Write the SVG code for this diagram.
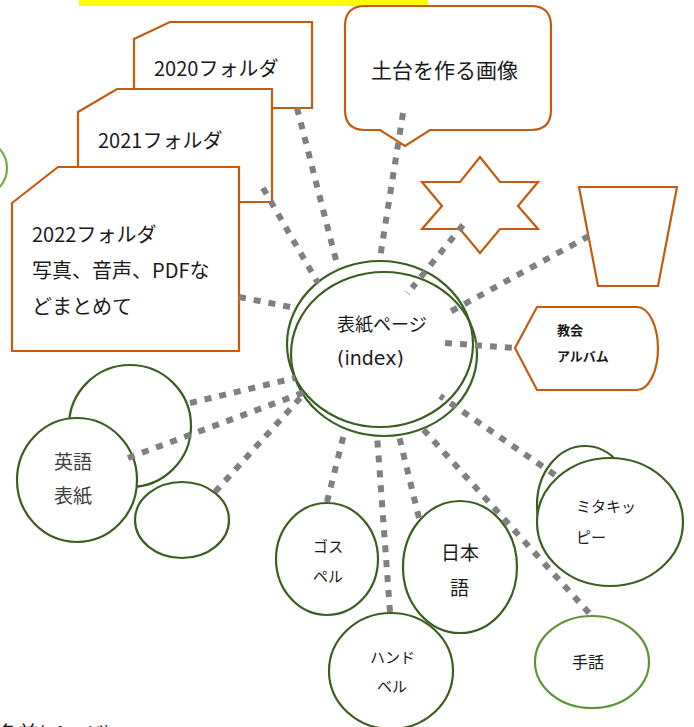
<svg xmlns="http://www.w3.org/2000/svg" width="694" height="727" viewBox="0 0 694 727">
<style>
.o{fill:#fff;stroke:#C55A11;stroke-width:2.2}
.g{fill:#fff;stroke:#3B5E22;stroke-width:2.2}
.gn{fill:none;stroke:#3B5E22;stroke-width:2.2}
.gl{fill:#fff;stroke:#5E9438;stroke-width:2.2}
.t{font-family:"Noto Sans CJK JP","Noto Sans",sans-serif;fill:#1a1a1a}
.c line{stroke:#808080;stroke-width:6;stroke-dasharray:7 8}
</style>
<rect width="694" height="727" fill="#fff"/>
<rect x="79" y="0" width="349" height="6" fill="#FFFF00"/>
<g id="left-partial"><ellipse cx="-23" cy="168" rx="30" ry="29" fill="#fff" stroke="#70AD47" stroke-width="2.2"/></g>
<g id="folder2020"><polygon class="o" points="134,39 170,22 312,22 312,108 134,108"/><text class="t" x="154" y="76" font-size="20">2020フォルダ</text></g>
<g id="folder2021"><polygon class="o" points="78,112 117,89 272,89 272,202 78,202"/><text class="t" x="98" y="148" font-size="20">2021フォルダ</text></g>
<g id="folder2022"><polygon class="o" points="12,203 58,167 239,167 239,351 12,351"/>
<text class="t" x="32" y="242" font-size="20">2022フォルダ</text>
<text class="t" x="32" y="278" font-size="20">写真、音声、PDFな</text>
<text class="t" x="32" y="314" font-size="20">どまとめて</text></g>
<g id="callout"><path class="o" d="M365,6 H531 Q551,6 551,26 V110 Q551,130 531,130 H430 L405,146 L380,130 H365 Q345,130 345,110 V26 Q345,6 365,6 Z"/><text class="t" x="371" y="78" font-size="21">土台を作る画像</text></g>
<g id="star"><polygon class="o" points="480,157 500,182 538,182 518,206 538,229 500,229 480,253 460,229 422,229 442,206 422,182 460,182"/></g>
<g id="trapezoid"><polygon class="o" points="579,187 677,187 658,286 598,286"/></g>
<g id="album"><path class="o" d="M515,348 L537,307 H637 A21,41.5 0 0 1 637,390 H537 Z"/>
<text class="t" x="557" y="335" font-size="13" font-weight="bold">教会</text>
<text class="t" x="557" y="361" font-size="13" font-weight="bold">アルバム</text></g>
<g id="index"><ellipse class="gn" cx="380" cy="344" rx="93" ry="83"/><ellipse class="gn" cx="384" cy="354" rx="93" ry="82"/>
<text class="t" x="337" y="331" font-size="18">表紙ページ</text>
<text x="337" y="365" font-size="19" font-family="DejaVu Sans, sans-serif" fill="#1a1a1a">(index)</text></g>
<g id="blank1"><circle class="g" cx="130" cy="426" r="61"/></g>
<g id="english"><ellipse class="g" cx="77" cy="480" rx="60" ry="62"/>
<text class="t" x="54" y="469" font-size="19" style="fill:#404040">英語</text>
<text class="t" x="54" y="503" font-size="19" style="fill:#404040">表紙</text></g>
<g id="blank2"><ellipse class="g" cx="182" cy="520" rx="47" ry="38"/></g>
<g id="gospel"><ellipse class="g" cx="327" cy="559" rx="51" ry="56"/>
<text class="t" x="313" y="552" font-size="15">ゴス</text>
<text class="t" x="313" y="582" font-size="15">ペル</text></g>
<g id="handbell"><ellipse class="g" cx="391" cy="671" rx="62" ry="58"/>
<text class="t" x="370" y="663" font-size="15">ハンド</text>
<text class="t" x="377" y="692" font-size="15">ベル</text></g>
<g id="japanese"><ellipse class="g" cx="460" cy="567" rx="57" ry="66"/>
<text class="t" x="441" y="560" font-size="19">日本</text>
<text class="t" x="450" y="595" font-size="19">語</text></g>
<g id="mitakippy"><ellipse class="g" cx="585" cy="505" rx="48" ry="59"/><ellipse class="g" cx="610" cy="522" rx="73" ry="64"/>
<text class="t" x="576" y="512" font-size="15">ミタキッ</text>
<text class="t" x="576" y="543" font-size="15">ピー</text></g>
<g id="sign"><ellipse class="gl" cx="592" cy="662" rx="57" ry="46"/>
<text class="t" x="572" y="668" font-size="16">手話</text></g>
<g id="bottom-text"><text class="t" x="-2" y="741" font-size="20">名前(ページ)</text></g>
<g id="connectors" class="c">
<line x1="297" y1="108" x2="338" y2="268"/>
<line x1="263" y1="188" x2="318" y2="283"/>
<line x1="403" y1="113" x2="380" y2="258"/>
<line x1="463" y1="225" x2="412" y2="288"/>
<line x1="589" y1="236" x2="448" y2="313"/>
<line x1="445" y1="343" x2="515" y2="348"/>
<line x1="239" y1="297" x2="295" y2="308"/>
<line x1="190" y1="403" x2="295" y2="378"/>
<line x1="128" y1="458" x2="305" y2="392"/>
<line x1="215" y1="492" x2="302" y2="396"/>
<line x1="327" y1="502" x2="345" y2="430"/>
<line x1="390" y1="612" x2="377" y2="435"/>
<line x1="419" y1="518" x2="398" y2="432"/>
<line x1="589" y1="613" x2="422" y2="428"/>
<line x1="555" y1="475" x2="440" y2="396"/>
<line x1="405" y1="291" x2="410" y2="295" style="stroke-width:1;stroke-dasharray:none;stroke:#999"/>
</g>
</svg>
